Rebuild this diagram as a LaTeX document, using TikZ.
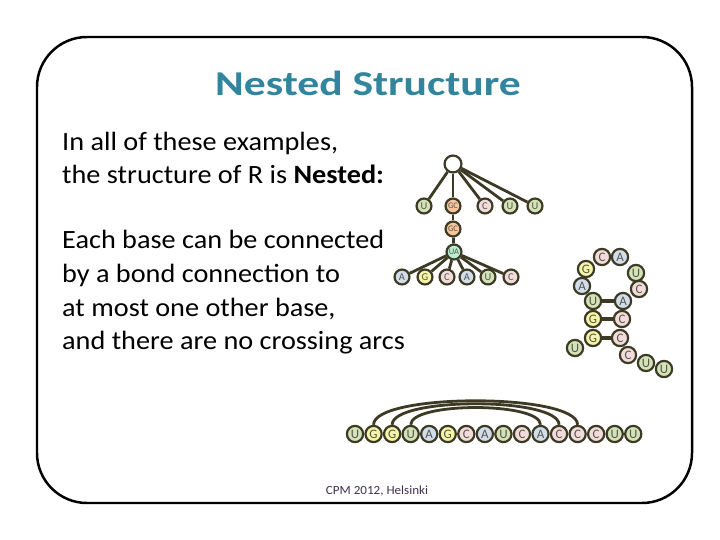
\documentclass[tikz,border=0pt]{standalone}
\usepackage{fontspec}
\setmainfont{Carlito}
\usetikzlibrary{positioning}
\definecolor{slideteal}{HTML}{31859C}
\definecolor{bondbrown}{HTML}{3C3A24}
\definecolor{footpurple}{HTML}{403152}
\definecolor{ugreen}{HTML}{D4E2B8}
\definecolor{gcpeach}{HTML}{F6C59E}
\definecolor{cpink}{HTML}{F2DCDB}
\definecolor{ablue}{HTML}{D2DDEC}
\definecolor{gyellow}{HTML}{F5F5A8}
\definecolor{uamint}{HTML}{B8EFD3}
\definecolor{lettergray}{HTML}{55554A}
\newcommand{\widen}[2]{\scalebox{#1}[1]{#2}}

\begin{document}
\begin{tikzpicture}[x=1bp,y=-1bp,
    base/.style={circle,draw=bondbrown,line width=2.2pt,minimum size=16.3pt,inner sep=0pt,text=lettergray,font=\fontsize{13}{13}\selectfont},
    tiny/.style={minimum size=15pt,font=\fontsize{10.5}{10.5}\selectfont},
    pairtxt/.style={font=\fontsize{8.5}{8.5}\selectfont},
    nU/.style={fill=ugreen},
    nG/.style={fill=gyellow},
    nC/.style={fill=cpink},
    nA/.style={fill=ablue},
    bond/.style={draw=bondbrown,line width=2.8pt},
    pair/.style={draw=bondbrown,line width=5pt},
    txt/.style={anchor=base west,inner sep=0pt,font=\fontsize{26.5}{26.5}\selectfont}
  ]
  \useasboundingbox (0,0) rectangle (720,540);
  \fill[white] (0,0) rectangle (720,540);
  \draw[line width=2.5pt,rounded corners=50bp] (37,37) rectangle (692,503);

  % title and text
  \node[anchor=base,inner sep=0pt,text=slideteal,font=\fontsize{35}{35}\selectfont\bfseries] (title) at (368,96) {\widen{1.25}{Nested Structure}};
  \node[txt] (line1) at (62,151) {\widen{1.07}{In all of these examples,}};
  \node[txt] (line2) at (62,184) {\widen{1.07}{the structure of R is \textbf{Nested:}}};
  \node[txt] (line3) at (62,249) {\widen{1.07}{Each base can be connected}};
  \node[txt] (line4) at (62,283) {\widen{1.07}{by a bond connection to}};
  \node[txt] (line5) at (62,316) {\widen{1.07}{at most one other base,}};
  \node[txt] (line6) at (62,349) {\widen{1.07}{and there are no crossing arcs}};
  \node[anchor=base,inner sep=0pt,text=footpurple,font=\fontsize{12.5}{12.5}\selectfont] (foot) at (377,494) {\widen{1.05}{CPM 2012, Helsinki}};

  % tree
  \node[base,tiny,fill=white,minimum size=17pt] (root) at (453,164) {};
  \node[base,tiny,nU] (t1) at (424,206) {U};
  \node[base,tiny,pairtxt,fill=gcpeach] (t2) at (453,206) {GC};
  \node[base,tiny,nC] (t3) at (485,206) {C};
  \node[base,tiny,nU] (t4) at (510,206) {U};
  \node[base,tiny,nU] (t5) at (535,206) {U};
  \node[base,tiny,pairtxt,fill=gcpeach] (gc2) at (453,229) {GC};
  \node[base,tiny,pairtxt,fill=uamint] (ua) at (454,252) {UA};
  \foreach \l/\px [count=\i] in {A/402,G/425,C/447,A/467,U/488,C/511}
    \node[base,tiny,n\l] (b\i) at (\px,277) {\l};
  \foreach \c in {t1,t2,t3,t4,t5}
    \draw[bond] (root) -- (\c);
  \draw[bond] (t2) -- (gc2);
  \draw[bond] (gc2) -- (ua);
  \foreach \c in {b1,b2,b3,b4,b5,b6}
    \draw[bond] (ua) -- (\c);

  % hairpin
  \foreach \l/\px/\py [count=\i from 0] in {U/575/348,G/593/338,G/593/319,U/593/301,A/582/286,G/586/269,C/602/257,A/620/257,U/636/273,C/639/289,A/623/301,C/622/319,C/620/338,C/628/355,U/646/363,U/664/369}
    \node[base,n\l] (h\i) at (\px,\py) {\l};
  \draw[pair] (h1) -- (h12);
  \draw[pair] (h2) -- (h11);
  \draw[pair] (h3) -- (h10);

  % linear sequence
  \foreach \l [count=\i from 0] in {U,G,G,U,A,G,C,A,U,C,A,C,C,C,U,U}
    \node[base,n\l] (l\i) at (355+18.55*\i,434) {\l};
  \draw[bond] (l1.north) .. controls +(0,-32) and +(0,-32) .. (l12.north);
  \draw[bond] (l2.north) .. controls +(0,-28) and +(0,-28) .. (l11.north);
  \draw[bond] (l3.north) .. controls +(0,-23) and +(0,-23) .. (l10.north);
\end{tikzpicture}
\end{document}
